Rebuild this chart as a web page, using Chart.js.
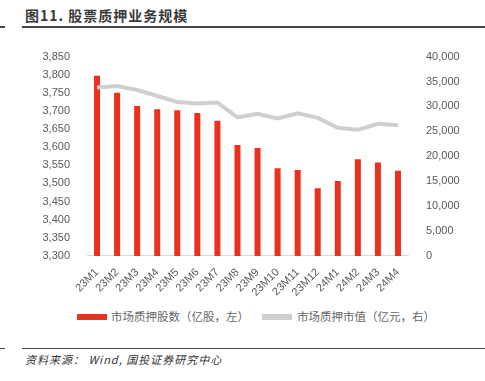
<!DOCTYPE html>
<html><head><meta charset="utf-8">
<script src="https://cdn.jsdelivr.net/npm/chart.js@4"></script>
<style>
body{margin:0;width:485px;height:381px;background:#fff;position:relative;overflow:hidden;font-family:"Noto Sans CJK SC",sans-serif;}
#title{position:absolute;left:25px;top:5px;font-size:14px;font-weight:bold;color:#3a3a3a;letter-spacing:1px;}
#tl{position:absolute;left:22px;top:26px;width:463px;height:2px;background:#444;}
#tl0{position:absolute;left:0;top:26px;width:5px;height:2px;background:#444;}
#fl{position:absolute;left:22px;top:348px;width:463px;height:1px;background:#444;}
#fl0{position:absolute;left:0;top:348px;width:5px;height:1px;background:#444;}
#src{position:absolute;left:25px;top:351px;font-size:11px;font-style:italic;color:#333;letter-spacing:1px;}
#wrap{position:absolute;left:0;top:40px;width:485px;height:261px;}
.lg{position:absolute;top:308px;font-size:11.5px;color:#666;white-space:nowrap;line-height:16px;}
.sw{position:absolute;top:314px;width:30px;height:6px;}
</style></head><body>
<div id="title">图11. 股票质押业务规模</div>
<div id="tl0"></div><div id="tl"></div>
<div id="wrap"><canvas id="c"></canvas></div>
<div class="sw" id="sw0" style="left:77px;"></div><div class="lg" id="lg0" style="left:111px;"></div>
<div class="sw" id="sw1" style="left:262px;"></div><div class="lg" id="lg1" style="left:297px;"></div>
<div id="fl0"></div><div id="fl"></div>
<div id="src">资料来源： Wind, 国投证券研究中心</div>
<script>
const categories=["23M1","23M2","23M3","23M4","23M5","23M6","23M7","23M8","23M9","23M10","23M11","23M12","24M1","24M2","24M3","24M4"];
const pledgedShares=[3797,3750,3714,3705,3702,3694,3673,3606,3598,3542,3537,3487,3507,3567,3558,3535];
const pledgedValue=[33800,34100,33300,32100,30900,30600,30800,27800,28500,27600,28600,27700,25700,25300,26500,26200];
const seriesNames=["市场质押股数（亿股，左）","市场质押市值（亿元，右）"];
const barColor='#e8321e', lineColor='#cfcfcf';
const tickFont={family:"Liberation Sans, Arial, sans-serif",size:11};
document.getElementById('lg0').textContent=seriesNames[0];
document.getElementById('lg1').textContent=seriesNames[1];
document.getElementById('sw0').style.background=barColor;
document.getElementById('sw1').style.background=lineColor;
new Chart(document.getElementById('c'),{
  data:{labels:categories,datasets:[
    {type:'line',label:seriesNames[1],data:pledgedValue,yAxisID:'y1',borderColor:lineColor,backgroundColor:lineColor,borderWidth:4,pointRadius:0,tension:0,order:0},
    {type:'bar',label:seriesNames[0],data:pledgedShares,yAxisID:'y',backgroundColor:barColor,barPercentage:0.6,categoryPercentage:0.5,order:1}
  ]},
  options:{responsive:true,maintainAspectRatio:false,animation:false,
    layout:{padding:{top:10,bottom:0,left:0,right:0}},
    plugins:{legend:{display:false},tooltip:{enabled:false}},
    scales:{
      x:{offset:true,grid:{display:false},border:{color:'#d9d9d9'},ticks:{autoSkip:false,color:'#595959',font:tickFont,maxRotation:45,minRotation:45,padding:2}},
      y:{position:'left',min:3300,max:3850,grid:{display:false},border:{display:false},
        ticks:{stepSize:50,color:'#595959',font:tickFont,padding:9},afterFit(s){s.width=87;}},
      y1:{position:'right',min:0,max:40000,grid:{display:false},border:{display:false},
        ticks:{stepSize:5000,color:'#595959',font:tickFont,padding:10},afterFit(s){s.width=77;}}
    }}
});
</script>
</body></html>
